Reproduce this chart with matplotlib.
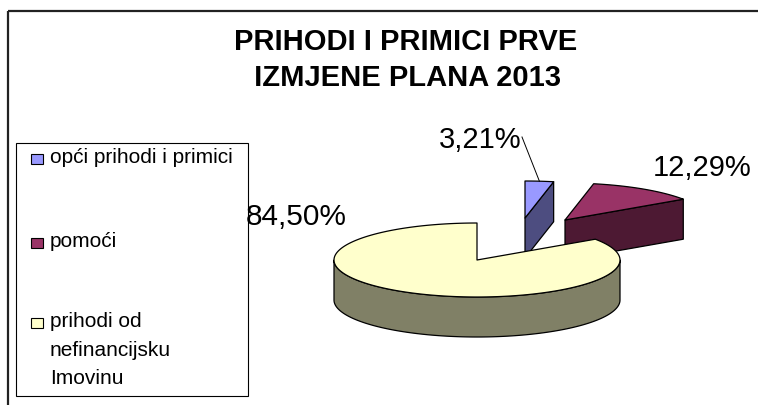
import numpy as np
import matplotlib
matplotlib.use("Agg")
import matplotlib.pyplot as plt
from matplotlib.patches import Polygon, Rectangle

# ---- data ----
categories = ['opći prihodi i primici', 'pomoći', 'prihodi od\nnefinancijsku\nImovinu']
values = [3.21, 12.29, 84.50]
pct_labels = ['3,21%', '12,29%', '84,50%']
title_lines = ['PRIHODI I PRIMICI PRVE', ' IZMJENE PLANA 2013']

# ---- style ----
top_colors = ['#9999FF', '#993366', '#FFFFCC']
side_colors = ['#4D4D80', '#4D1933', '#808066']
centers = [(525, 218), (565, 220), (477, 260)]   # exploded slice centres (px)
A, B, DEPTH = 143, 37, 40
FONT = 'Liberation Sans'

fig = plt.figure(figsize=(7.58, 4.05), dpi=100)
ax = fig.add_axes([0, 0, 1, 1])
ax.set_xlim(0, 758)
ax.set_ylim(405, 0)
ax.axis('off')

# outer frame (top + left visible)
ax.plot([8, 758], [11, 11], color='#222222', lw=1.6, solid_capstyle='butt')
ax.plot([8, 8], [11, 405], color='#222222', lw=1.6, solid_capstyle='butt')

def pt(cx, cy, phi, dy=0):
    r = np.radians(phi)
    return (cx + A * np.sin(r), cy - B * np.cos(r) + dy)

def arc(cx, cy, t1, t2, dy=0, n=None):
    n = n or max(4, int(abs(t2 - t1) * 1.5))
    ph = np.linspace(t1, t2, n)
    return [pt(cx, cy, p, dy) for p in ph]

tot = sum(values)
starts = np.concatenate([[0], np.cumsum(values)[:-1]]) / tot * 360
ends = np.cumsum(values) / tot * 360

order = np.argsort([c[1] for c in centers])
ekw = dict(edgecolor='black', lw=0.9, joinstyle='round')
for i in order:
    cx, cy = centers[i]
    t1, t2 = starts[i], ends[i]
    # radial faces
    if np.sin(np.radians(t2)) > 1e-6:
        p = pt(cx, cy, t2)
        ax.add_patch(Polygon([(cx, cy), p, (p[0], p[1] + DEPTH), (cx, cy + DEPTH)],
                             closed=True, facecolor=side_colors[i], **ekw))
    if np.sin(np.radians(t1)) < -1e-6:
        p = pt(cx, cy, t1)
        ax.add_patch(Polygon([(cx, cy), p, (p[0], p[1] + DEPTH), (cx, cy + DEPTH)],
                             closed=True, facecolor=side_colors[i], **ekw))
    # rim (front half 90..270)
    r1, r2 = max(t1, 90), min(t2, 270)
    if r2 > r1:
        upper = arc(cx, cy, r1, r2)
        lower = arc(cx, cy, r2, r1, DEPTH)
        ax.add_patch(Polygon(upper + lower, closed=True, facecolor=side_colors[i], **ekw))
    # top face
    ax.add_patch(Polygon([(cx, cy)] + arc(cx, cy, t1, t2), closed=True,
                         facecolor=top_colors[i], **ekw))

# percentage labels
ax.text(522, 140, pct_labels[0], ha='right', va='center', fontsize=21, family=FONT)
ax.text(653, 168, pct_labels[1], ha='left', va='center', fontsize=21, family=FONT)
ax.text(246, 217, pct_labels[2], ha='left', va='center', fontsize=21.5, family=FONT)
mid0 = (starts[0] + ends[0]) / 2
lp = pt(centers[0][0], centers[0][1], mid0)
ax.plot([522, lp[0]], [137, lp[1]], color='black', lw=0.7)

# title
ax.text(406, 42, title_lines[0], ha='center', va='center', fontsize=21,
        fontweight='bold', family=FONT)
ax.text(404, 78, title_lines[1], ha='center', va='center', fontsize=21,
        fontweight='bold', family=FONT)

# legend
ax.add_patch(Rectangle((16, 143), 232, 253, facecolor='white', edgecolor='black', lw=0.8))
leg_y = [159, 243, 323]
for i, (lab, y) in enumerate(zip(categories, leg_y)):
    ax.add_patch(Rectangle((31, y - 5), 12, 10, facecolor=top_colors[i],
                           edgecolor='black', lw=0.8))
    ax.text(50, y - 11, lab, ha='left', va='top', fontsize=15, family=FONT,
            linespacing=1.65)

fig.savefig('out.png', dpi=100)
